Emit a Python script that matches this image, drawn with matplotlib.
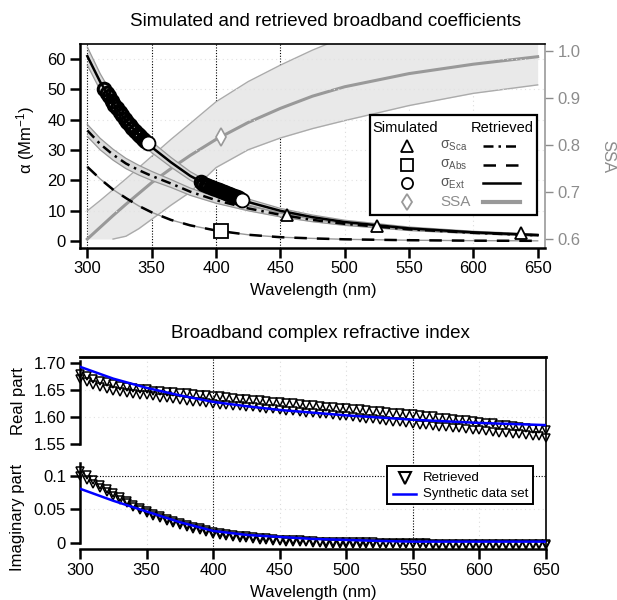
import numpy as np
import matplotlib
matplotlib.use("Agg")
import matplotlib.pyplot as plt
from matplotlib.patches import Rectangle

plt.rcParams['font.family'] = ['Liberation Sans', 'DejaVu Sans']
plt.rcParams['mathtext.fontset'] = 'custom'
plt.rcParams['mathtext.rm'] = 'Liberation Sans'
plt.rcParams['mathtext.it'] = 'Liberation Sans:italic'
plt.rcParams['mathtext.default'] = 'regular'

# ---------------- broadband optical coefficients (Mm^-1) ----------------
wl = [300, 310, 320, 330, 340, 350, 365, 380, 400, 425, 450, 475, 500, 550, 600, 650]
ext_ret = [61.0, 52.5, 45.5, 39.8, 35.0, 31.0, 26.0, 21.5, 17.0, 12.9, 10.0, 7.9, 6.3, 4.2, 2.9, 2.0]
ext_unc = [3.0, 2.7, 2.4, 2.2, 2.0, 1.8, 1.6, 1.4, 1.2, 1.0, 0.8, 0.7, 0.6, 0.45, 0.35, 0.3]
sca_ret = [36.5, 32.0, 28.5, 25.6, 23.4, 21.5, 19.0, 16.3, 13.5, 10.8, 8.7, 7.0, 5.7, 3.9, 2.75, 1.9]
sca_unc = [2.0, 1.9, 1.8, 1.7, 1.6, 1.5, 1.3, 1.2, 1.0, 0.8, 0.7, 0.6, 0.5, 0.4, 0.3, 0.25]
abs_ret = [24.5, 20.5, 17.0, 14.2, 11.6, 9.5, 7.0, 5.2, 3.5, 2.1, 1.3, 0.9, 0.6, 0.3, 0.15, 0.1]
ssa_ret = [0.600, 0.625, 0.650, 0.674, 0.697, 0.720, 0.750, 0.778, 0.812, 0.848, 0.878, 0.904, 0.924, 0.952, 0.972, 0.988]
ssa_hi = [0.660, 0.682, 0.705, 0.728, 0.752, 0.776, 0.812, 0.846, 0.892, 0.935, 0.970, 1.002, 1.030, 1.060, 1.080, 1.090]
ssa_lo = [0.600, 0.600, 0.600, 0.606, 0.622, 0.642, 0.672, 0.700, 0.752, 0.790, 0.815, 0.835, 0.852, 0.884, 0.910, 0.928]

# retrieved extinction points in the two measurement windows
wl_ret_a = [313, 315, 317, 319, 321, 323, 325, 327, 329, 331, 333, 335, 337, 339, 341, 343, 345]
ext_ret_a = [50.3, 49.0, 47.7, 46.3, 45.0, 43.8, 42.6, 41.5, 40.4, 39.3, 38.3, 37.3, 36.3, 35.4, 34.5, 33.7, 32.9]
wl_ret_b = [388, 390, 392, 394, 396, 398, 400, 402, 404, 406, 408, 410, 412, 414, 416, 418]
ext_ret_b = [19.4, 19.0, 18.6, 18.2, 17.9, 17.5, 17.1, 16.8, 16.5, 16.1, 15.8, 15.5, 15.2, 14.9, 14.6, 14.3]

# simulated values
sim_sca_wl = [455, 525, 637]
sim_sca = [8.6, 5.1, 2.8]
sim_abs_wl = [404]
sim_abs = [3.2]
sim_ext_wl = [347, 420]
sim_ext = [32.5, 13.5]
sim_ssa_wl = [404]
sim_ssa = [0.817]

# ---------------- complex refractive index ----------------
wl_syn = [300, 325, 350, 375, 400, 425, 450, 475, 500, 525, 550, 575, 600, 625, 650]
re_syn = [1.693, 1.671, 1.654, 1.640, 1.628, 1.620, 1.613, 1.608, 1.603, 1.599, 1.595, 1.592, 1.589, 1.587, 1.585]
im_syn = [0.081, 0.063, 0.047, 0.031, 0.018, 0.012, 0.009, 0.006, 0.0045, 0.003, 0.002, 0.002, 0.002, 0.002, 0.002]

wl_rt = list(range(300, 651, 5))
re_rt_hi = [1.680, 1.675, 1.671, 1.667, 1.664, 1.661, 1.658, 1.656, 1.654, 1.652, 1.651,
            1.649, 1.648, 1.647, 1.646, 1.645, 1.644, 1.642, 1.641, 1.640, 1.639,
            1.638, 1.637, 1.635, 1.634, 1.633, 1.632, 1.631, 1.630, 1.628, 1.627,
            1.626, 1.625, 1.624, 1.623, 1.622, 1.620, 1.619, 1.618, 1.617, 1.616,
            1.615, 1.614, 1.613, 1.612, 1.611, 1.609, 1.608, 1.607, 1.606, 1.605,
            1.604, 1.602, 1.601, 1.599, 1.598, 1.596, 1.595, 1.594, 1.592, 1.591,
            1.589, 1.588, 1.586, 1.585, 1.583, 1.581, 1.580, 1.578, 1.577, 1.575]
re_rt_lo = [1.670, 1.664, 1.659, 1.655, 1.651, 1.648, 1.646, 1.644, 1.642, 1.641, 1.640,
            1.638, 1.636, 1.635, 1.633, 1.632, 1.630, 1.628, 1.627, 1.625, 1.624,
            1.623, 1.622, 1.621, 1.620, 1.619, 1.618, 1.617, 1.615, 1.614, 1.613,
            1.612, 1.611, 1.609, 1.608, 1.607, 1.606, 1.605, 1.603, 1.602, 1.601,
            1.600, 1.598, 1.597, 1.596, 1.594, 1.593, 1.591, 1.590, 1.588, 1.587,
            1.586, 1.585, 1.583, 1.582, 1.581, 1.580, 1.579, 1.577, 1.576, 1.575,
            1.574, 1.572, 1.571, 1.570, 1.569, 1.568, 1.566, 1.565, 1.564, 1.562]
im_rt_hi = [0.108, 0.101, 0.094, 0.087, 0.080, 0.074, 0.068, 0.062, 0.057, 0.052, 0.048,
            0.044, 0.040, 0.036, 0.033, 0.030, 0.027, 0.024, 0.022, 0.019, 0.017,
            0.015, 0.014, 0.012, 0.011, 0.010, 0.009, 0.008, 0.007, 0.006, 0.005,
            0.005, 0.004, 0.004, 0.003, 0.003, 0.002, 0.002, 0.002, 0.001, 0.001,
            0.001, 0.001, 0.001, 0.001, 0.000, 0.000, 0.000, 0.000, 0.000, 0.000,
            0.000, 0.000, -0.001, -0.001, -0.001, -0.001, -0.001, -0.001, -0.001, -0.001,
            -0.001, -0.001, -0.001, -0.001, -0.001, -0.001, -0.001, -0.001, -0.001, -0.001]
im_rt_lo = [0.100, 0.094, 0.088, 0.082, 0.076, 0.070, 0.064, 0.059, 0.054, 0.049, 0.045,
            0.041, 0.037, 0.033, 0.030, 0.027, 0.024, 0.021, 0.019, 0.016, 0.014,
            0.012, 0.011, 0.009, 0.008, 0.007, 0.006, 0.005, 0.004, 0.003, 0.003,
            0.002, 0.002, 0.001, 0.001, 0.000, 0.000, -0.001, -0.001, -0.001, -0.002,
            -0.002, -0.002, -0.002, -0.002, -0.002, -0.002, -0.002, -0.002, -0.002, -0.002,
            -0.002, -0.002, -0.003, -0.003, -0.003, -0.003, -0.003, -0.003, -0.003, -0.003,
            -0.003, -0.003, -0.003, -0.003, -0.003, -0.003, -0.003, -0.003, -0.003, -0.003]

x_ticks = [300, 350, 400, 450, 500, 550, 600, 650]

W, H = 617, 600
fig = plt.figure(figsize=(W / 100, H / 100), dpi=100)


def box(l, t, r, b):
    return [l / W, (H - b) / H, (r - l) / W, (b - t) / H]


GREY_TXT = '#8c8c8c'
FS = 12

# ======================= top panel =======================
ax = fig.add_axes(box(80, 44, 545, 247.5))
ax2 = ax.twinx()
ax.set_zorder(ax2.get_zorder() + 1)
ax.patch.set_visible(False)

ax.set_xlim(294.3, 655.7)
ax.set_ylim(-2.1, 65)
ax2.set_ylim(0.582, 1.015)

# grid
for x in [300, 350, 400, 450]:
    ax2.axvline(x, color='k', ls=(0, (1, 1.5)), lw=0.8, zorder=0.5)
for x in [500, 550, 600]:
    ax2.axvline(x, color='#dcdcdc', ls=(0, (1, 3)), lw=0.8, zorder=0.5)
for y in [10, 20, 30, 40, 50, 60]:
    ax.axhline(y, color='#e2e2e2', ls=(0, (1, 3)), lw=0.8, zorder=0.5)

# SSA with uncertainty band (right axis)
wl_a = np.array(wl)
ax2.fill_between(wl_a, ssa_lo, ssa_hi, color='#e9e9e9', lw=0, zorder=1)
ax2.plot(wl_a, ssa_hi, color='#ababab', lw=1.0, zorder=2)
lo_arr = np.array(ssa_lo)
ax2.plot(wl_a[2:], lo_arr[2:], color='#ababab', lw=1.0, zorder=2)
ax2.plot(wl_a, ssa_ret, color='#999999', lw=2.2, zorder=3)
ax2.plot(sim_ssa_wl, sim_ssa, ls='none', marker='d', ms=9, mfc='white',
         mec='#999999', mew=1.2, zorder=4)

# coefficient bands and curves (left axis)
ext_a, ext_u = np.array(ext_ret), np.array(ext_unc)
sca_a, sca_u = np.array(sca_ret), np.array(sca_unc)
ax.fill_between(wl_a, ext_a - ext_u, ext_a + ext_u, color='#dadada', lw=0, zorder=1)
ax.plot(wl_a, ext_a + ext_u, color='#999999', lw=0.9, zorder=1.2)
ax.plot(wl_a, ext_a - ext_u, color='#999999', lw=0.9, zorder=1.2)
ax.fill_between(wl_a, sca_a - sca_u, sca_a + sca_u, color='#dadada', lw=0, zorder=1)
ax.plot(wl_a, sca_a + sca_u, color='#999999', lw=0.9, zorder=1.2)
ax.plot(wl_a, sca_a - sca_u, color='#999999', lw=0.9, zorder=1.2)
ax.plot(wl_a, abs_ret, color='#999999', lw=1.0, zorder=1.2)

ax.plot(wl_a, ext_ret, color='k', lw=1.8, zorder=2)
ax.plot(wl_a, sca_ret, color='k', lw=1.8, dashes=(4, 2, 1, 2), zorder=2)
ax.plot(wl_a, abs_ret, color='k', lw=1.8, dashes=(5, 4), zorder=2)

blob = dict(ls='none', marker='o', ms=9, mfc='none', mec='k', mew=2.2, zorder=3)
ax.plot(wl_ret_a, ext_ret_a, **blob)
ax.plot(wl_ret_b, ext_ret_b, **blob)

ax.plot(sim_sca_wl, sim_sca, ls='none', marker='^', ms=9, mfc='white', mec='k', mew=1.3, zorder=4)
ax.plot(sim_abs_wl, sim_abs, ls='none', marker='s', ms=10, mfc='white', mec='k', mew=1.3, zorder=4)
ax.plot(sim_ext_wl, sim_ext, ls='none', marker='o', ms=10, mfc='white', mec='k', mew=1.3, zorder=4)

# axes styling
ax.set_xticks(x_ticks)
ax.set_yticks([0, 10, 20, 30, 40, 50, 60])
ax.tick_params(axis='both', direction='out', length=7, width=1.8, labelsize=FS, pad=3)
for s in ['left', 'bottom']:
    ax.spines[s].set_linewidth(1.8)
ax.spines['top'].set_linewidth(1.2)
ax.spines['right'].set_visible(False)
ax2.spines['left'].set_visible(False)
ax2.spines['top'].set_visible(False)
ax2.spines['bottom'].set_visible(False)
ax2.spines['right'].set_color('#999999')
ax2.spines['right'].set_linewidth(1.2)
ax2.set_yticks([0.6, 0.7, 0.8, 0.9, 1.0])
ax2.set_yticklabels(['0.6', '0.7', '0.8', '0.9', '1.0'])
ax2.tick_params(axis='y', direction='out', length=6, width=1.0, colors=GREY_TXT,
                labelsize=FS, pad=3)

# legend block
lx0, ly0, lx1, ly1 = 0.624, 0.160, 0.983, 0.651
ax.add_patch(Rectangle((lx0, ly0), lx1 - lx0, ly1 - ly0, transform=ax.transAxes,
                       facecolor='white', edgecolor='k', lw=1.6, zorder=10))
ax.text(0.699, 0.587, 'Simulated', transform=ax.transAxes, ha='center', va='center',
        fontsize=10.5, zorder=11)
ax.text(0.908, 0.587, 'Retrieved', transform=ax.transAxes, ha='center', va='center',
        fontsize=10.5, zorder=11)
rows = [0.499, 0.405, 0.315, 0.226]
leg_markers = [('^', 'k', 8), ('s', 'k', 8), ('o', 'k', 8), ('d', '#999999', 8)]
leg_labels = [r'$\sigma_{Sca}$', r'$\sigma_{Abs}$', r'$\sigma_{Ext}$', 'SSA']
leg_label_colors = ['#555555', '#555555', '#555555', GREY_TXT]
for yy, (m, c, ms), lab, lc in zip(rows, leg_markers, leg_labels, leg_label_colors):
    ax.plot([0.703], [yy], transform=ax.transAxes, marker=m, ms=ms, mfc='white',
            mec=c, mew=1.3, ls='none', zorder=11, clip_on=False)
    ax.text(0.775, yy, lab, transform=ax.transAxes, ha='left', va='center',
            fontsize=11 if lab == 'SSA' else 10, color=lc, zorder=11)
ax.plot([0.867, 0.946], [rows[0]] * 2, transform=ax.transAxes, color='k', lw=1.8,
        dashes=(4, 2, 1, 2), zorder=11)
ax.plot([0.867, 0.946], [rows[1]] * 2, transform=ax.transAxes, color='k', lw=1.8,
        dashes=(5, 4), zorder=11)
ax.plot([0.867, 0.946], [rows[2]] * 2, transform=ax.transAxes, color='k', lw=1.8, zorder=11)
ax.plot([0.867, 0.946], [rows[3]] * 2, transform=ax.transAxes, color='#999999', lw=3,
        zorder=11)

# ======================= bottom panel =======================
bg = fig.add_axes(box(80, 357, 546, 549))
bg.set_xlim(300, 650)
bg.set_ylim(0, 1)
bg.set_xticks([])
bg.set_yticks([])
for s in ['left', 'bottom']:
    bg.spines[s].set_visible(False)
bg.spines['top'].set_linewidth(2.0)
bg.spines['right'].set_linewidth(1.2)
for x in [400, 550]:
    bg.axvline(x, color='k', ls=(0, (1, 1.5)), lw=0.8, zorder=0.5)
for x in [350, 450, 500, 600]:
    bg.axvline(x, color='#dcdcdc', ls=(0, (1, 3)), lw=0.8, zorder=0.5)

axr = fig.add_axes(box(80, 357, 546, 444))
axi = fig.add_axes(box(80, 463, 546, 549))
for a in (axr, axi):
    a.patch.set_visible(False)
    a.set_xlim(300, 650)
    for s in ['top', 'right']:
        a.spines[s].set_visible(False)
    a.spines['left'].set_linewidth(1.8)
    a.tick_params(axis='both', direction='out', length=7, width=1.8, labelsize=FS, pad=3)

axr.set_ylim(1.55, 1.7111)
axr.spines['left'].set_bounds(1.55, 1.704)
axr.spines['bottom'].set_visible(False)
axr.set_xticks([])
axr.set_yticks([1.55, 1.60, 1.65, 1.70])
axr.set_yticklabels(['1.55', '1.60', '1.65', '1.70'])
for y in [1.60, 1.65]:
    axr.axhline(y, color='#e2e2e2', ls=(0, (1, 3)), lw=0.8, zorder=0.5)

axi.set_ylim(-0.009, 0.1194)
axi.spines['left'].set_bounds(0, 0.1194)
axi.spines['bottom'].set_linewidth(1.8)
axi.set_xticks(x_ticks)
axi.set_yticks([0, 0.05, 0.1])
axi.set_yticklabels(['0', '0.05', '0.1'])
axi.axhline(0.1, color='k', ls=(0, (1, 1.5)), lw=0.8, zorder=0.5)
axi.axhline(0.05, color='#e2e2e2', ls=(0, (1, 3)), lw=0.8, zorder=0.5)

tri = dict(ls='none', marker='v', ms=5.5, mfc='none', mec='k', mew=1.1, clip_on=False, zorder=2)
axr.plot(wl_rt, re_rt_hi, **tri)
axr.plot(wl_rt, re_rt_lo, **tri)
axr.plot(wl_syn, re_syn, color='#0000ff', lw=1.8, zorder=3)
axi.plot(wl_rt, im_rt_hi, **tri)
axi.plot(wl_rt, im_rt_lo, **tri)
axi.plot(wl_syn, im_syn, color='#0000ff', lw=1.8, zorder=3)

# legend of the lower panel
bx0, by0, bx1, by1 = 0.659, 0.523, 0.972, 0.965
axi.add_patch(Rectangle((bx0, by0), bx1 - bx0, by1 - by0, transform=axi.transAxes,
                        facecolor='white', edgecolor='k', lw=1.4, zorder=10))
axi.plot([0.697], [0.826], transform=axi.transAxes, marker='v', ms=8, mfc='white',
         mec='k', mew=1.5, ls='none', zorder=11)
axi.text(0.736, 0.826, 'Retrieved', transform=axi.transAxes, ha='left', va='center',
         fontsize=9.5, zorder=11)
axi.plot([0.672, 0.721], [0.640, 0.640], transform=axi.transAxes, color='#0000ff',
         lw=1.8, zorder=11)
axi.text(0.736, 0.640, 'Synthetic data set', transform=axi.transAxes, ha='left',
         va='center', fontsize=9.5, zorder=11)

# ======================= titles and axis labels =======================
def ftext(x, y, s, **kw):
    fig.text(x / W, 1 - y / H, s, **kw)


ftext(325, 22, 'Simulated and retrieved broadband coefficients', ha='center',
      va='center', fontsize=13.5)
ftext(313, 291, 'Wavelength (nm)', ha='center', va='center', fontsize=FS)
ftext(26, 140, r'α (Mm$^{-1}$)', ha='center', va='center', rotation=90, fontsize=FS)
ftext(608, 157, 'SSA', ha='center', va='center', rotation=270, fontsize=FS, color=GREY_TXT)

ftext(320, 333, 'Broadband complex refractive index', ha='center', va='center',
      fontsize=13.5)
ftext(313, 592, 'Wavelength (nm)', ha='center', va='center', fontsize=FS)
ftext(18, 401, 'Real part', ha='center', va='center', rotation=90, fontsize=FS)
ftext(18, 517, 'Imaginary part', ha='center', va='center', rotation=90, fontsize=FS)

fig.savefig('out.png', dpi=100)
